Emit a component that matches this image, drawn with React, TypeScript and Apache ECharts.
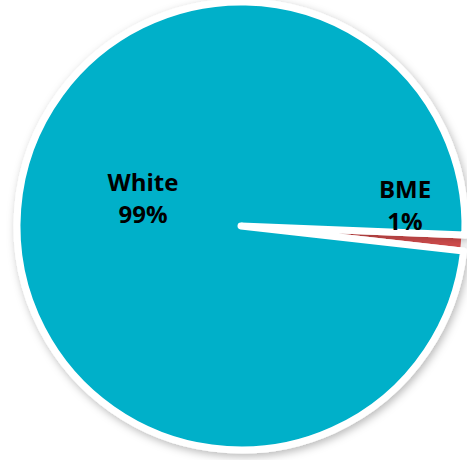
import React, { useEffect, useRef } from "react";
import * as echarts from "echarts";

const categories = ["BME", "White"];
const values = [1.15, 98.85];
const colors = ["#E05252", "#00B0C9"];

const LABEL_POS: Record<string, [number, number]> = {
  BME: [405, 204],
  White: [143, 197],
};

export default function App() {
  const ref = useRef<HTMLDivElement>(null);
  useEffect(() => {
    if (!ref.current) return;
    const chart = echarts.init(ref.current, undefined, { renderer: "svg" });
    chart.setOption({
      animation: false,
      backgroundColor: "#ffffff",
      series: [
        {
          type: "pie",
          center: [241, 226],
          radius: 224,
          startAngle: -2.3,
          clockwise: true,
          percentPrecision: 0,
          avoidLabelOverlap: false,
          data: categories.map((c, i) => ({
            name: c,
            value: values[i],
            itemStyle:
              c === "White"
                ? {
                    color: colors[i],
                    shadowBlur: 8,
                    shadowColor: "rgba(0,0,0,0.28)",
                    shadowOffsetX: 2,
                    shadowOffsetY: 3,
                  }
                : { color: colors[i] },
          })),
          itemStyle: {
            borderColor: "#ffffff",
            borderWidth: 7,
            borderJoin: "round",
            borderCap: "round",
          },
          label: {
            show: true,
            position: "inside",
            formatter: "{b}\n{d}%",
            color: "#000000",
            fontFamily: "Open Sans",
            fontWeight: "bold",
            fontSize: 24,
            lineHeight: 32,
            align: "center",
          },
          labelLine: { show: false },
          labelLayout: (params: any) => {
            const p = LABEL_POS[categories[params.dataIndex]];
            return { x: p[0], y: p[1], align: "center", verticalAlign: "middle" };
          },
          emphasis: { disabled: true },
        },
      ],
    });
    return () => chart.dispose();
  }, []);
  return (
    <div
      ref={ref}
      style={{ position: "fixed", left: 0, top: 0, width: 467, height: 460 }}
    />
  );
}
